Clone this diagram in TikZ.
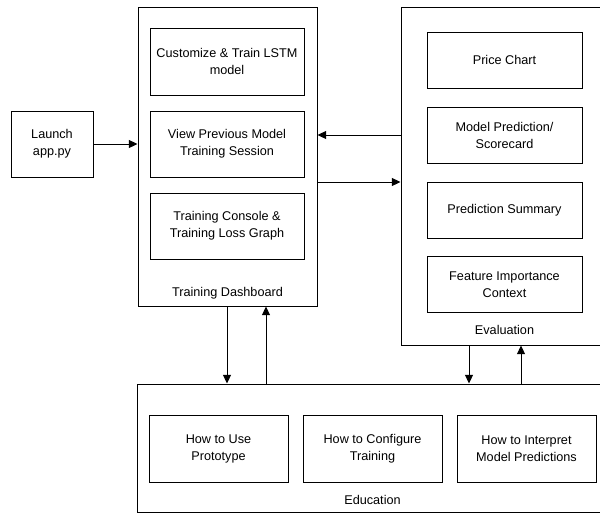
\documentclass[tikz,border=0pt]{standalone}
\usepackage{fontspec}
\setmainfont{Liberation Sans}
\usetikzlibrary{arrows.meta}
\begin{document}
\begin{tikzpicture}[x=0.75pt,y=-0.75pt,
  txt/.style={font=\fontsize{9.5}{12.75}\selectfont, align=center, inner sep=0pt},
  box/.style={txt, draw, line width=0.75pt},
  sz/.style 2 args={minimum width=#1*0.75pt, minimum height=#2*0.75pt},
  arr/.style={-{Triangle[length=6.5pt,width=6pt]}, line width=0.75pt}]
\useasboundingbox (0,0) rectangle (600,515);
\clip (0,0) rectangle (600,515);
% launch
\node[box, sz={82}{66}] (L) at (52,144) {Launch\\app.py};
% training dashboard
\node[box, sz={179}{299}] (TD) at (227.5,156.5) {};
\node[box, sz={154}{67}] (t1) at (227,61.5) {Customize \& Train LSTM\\model};
\node[box, sz={154}{66}] (t2) at (227,144) {View Previous Model\\Training Session};
\node[box, sz={154}{66}] (t3) at (227,226) {Training Console \&\\Training Loss Graph};
\node[txt] (tdl) at (227.5,293) {Training Dashboard};
% evaluation
\node[box, sz={207}{338}] (EV) at (504.5,176) {};
\node[box, sz={155}{56}] (e1) at (504.5,60) {Price Chart};
\node[box, sz={155}{56}] (e2) at (504.5,135) {Model Prediction/\\Scorecard};
\node[box, sz={155}{56}] (e3) at (504.5,210) {Prediction Summary};
\node[box, sz={155}{56}] (e4) at (504.5,284.5) {Feature Importance\\Context};
\node[txt] (evl) at (504.5,330) {Evaluation};
% education
\node[box, sz={471}{128}] (ED) at (372.5,448) {};
\node[box, sz={139}{67}] (d1) at (218.5,448.5) {How to Use\\Prototype};
\node[box, sz={139}{67}] (d2) at (372.5,448.5) {How to Configure\\Training};
\node[box, sz={139}{67}] (d3) at (526.5,448.5) {How to Interpret\\Model Predictions};
\node[txt] (edl) at (372.5,500) {Education};
% helper coordinates
\coordinate (yb) at (0,182);
\coordinate (xa) at (227,0);
\coordinate (xb) at (266,0);
\coordinate (xc) at (469,0);
\coordinate (xd) at (521,0);
% connectors
\draw[arr] (L.east) -- (L.east -| TD.west);
\draw[arr] (e2.west -| EV.west) -- (e2.west -| TD.east);
\draw[arr] (TD.east |- yb) -- (EV.west |- yb);
\draw[arr] (TD.south -| xa) -- (ED.north -| xa);
\draw[arr] (ED.north -| xb) -- (TD.south -| xb);
\draw[arr] (EV.south -| xc) -- (ED.north -| xc);
\draw[arr] (ED.north -| xd) -- (EV.south -| xd);
\end{tikzpicture}
\end{document}
